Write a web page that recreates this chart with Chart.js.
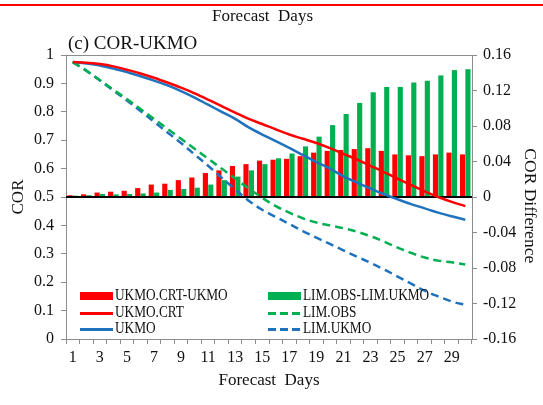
<!DOCTYPE html>
<html>
<head>
<meta charset="utf-8">
<script src="https://cdn.jsdelivr.net/npm/chart.js@4.4.1/dist/chart.umd.min.js"></script>
<style>
  body { margin: 0; background: #fff; }
  #wrap { position: relative; width: 543px; height: 405px; overflow: hidden; font-family: "Liberation Serif", "Times New Roman", serif; color: #111; }
  #chart { position: absolute; left: 0; top: 0; }
  .txt { position: absolute; white-space: nowrap; line-height: 1; }
  #topRule { position: absolute; left: 0; top: 4px; width: 543px; height: 2px; background: #ff0000; }
  #prevTitle { left: 212px; top: 7px; font-size: 17px; }
  #panelTitle { left: 68px; top: 33px; font-size: 19px; }
  .legRow { position: absolute; height: 16px; }
  .sw { position: absolute; left: 0; width: 33px; }
  .legTxt { position: absolute; left: 35px; top: -2px; font-size: 16px; transform: scaleX(0.83); transform-origin: left center; white-space: nowrap; }
</style>
</head>
<body>
<div id="wrap">
  <canvas id="chart" width="543" height="405"></canvas>
  <div id="topRule"></div>
  <div class="txt" id="prevTitle">Forecast&nbsp; Days</div>
  <div class="txt" id="panelTitle">(c) COR-UKMO</div>
  <div id="legend"></div>
</div>
<script>
const DAYS = [1, 2, 3, 4, 5, 6, 7, 8, 9, 10, 11, 12, 13, 14, 15, 16, 17, 18, 19, 20, 21, 22, 23, 24, 25, 26, 27, 28, 29, 30];

// COR difference bars (right axis)
const CRT_DIFF = [0.002, 0.003, 0.005, 0.006, 0.007, 0.010, 0.014, 0.015, 0.019, 0.022, 0.027, 0.030, 0.035, 0.037, 0.041,
                  0.042, 0.043, 0.046, 0.050, 0.052, 0.053, 0.054, 0.055, 0.052, 0.048, 0.047, 0.046, 0.048, 0.050, 0.048];
const LIM_DIFF = [0.0015, 0.002, 0.0034, 0.003, 0.0034, 0.004, 0.005, 0.008, 0.009, 0.0105, 0.014, 0.019, 0.023, 0.030, 0.037,
                  0.0436, 0.049, 0.057, 0.068, 0.081, 0.0935, 0.106, 0.118, 0.124, 0.124, 0.129, 0.131, 0.137, 0.143, 0.144];

// COR lines (left axis)
const UKMO_CRT = [0.975, 0.973, 0.968, 0.960, 0.948, 0.935, 0.920, 0.903, 0.885, 0.865, 0.843, 0.820, 0.797, 0.775, 0.757,
                  0.738, 0.720, 0.705, 0.690, 0.672, 0.652, 0.632, 0.610, 0.588, 0.565, 0.542, 0.520, 0.500, 0.483, 0.468];
const UKMO = [0.975, 0.970, 0.963, 0.952, 0.940, 0.925, 0.910, 0.893, 0.873, 0.850, 0.825, 0.800, 0.775, 0.745, 0.720,
              0.697, 0.673, 0.648, 0.623, 0.600, 0.573, 0.551, 0.530, 0.510, 0.492, 0.475, 0.460, 0.445, 0.432, 0.420];
const LIM_OBS = [0.975, 0.945, 0.912, 0.878, 0.845, 0.810, 0.775, 0.740, 0.705, 0.670, 0.635, 0.600, 0.565, 0.530, 0.497,
                 0.468, 0.445, 0.425, 0.410, 0.400, 0.390, 0.378, 0.362, 0.343, 0.322, 0.303, 0.287, 0.276, 0.270, 0.262];
const LIM_UKMO = [0.975, 0.945, 0.910, 0.875, 0.840, 0.803, 0.765, 0.727, 0.690, 0.650, 0.610, 0.568, 0.527, 0.487, 0.455,
                  0.430, 0.405, 0.380, 0.357, 0.335, 0.312, 0.290, 0.268, 0.245, 0.220, 0.195, 0.170, 0.150, 0.132, 0.120];

const RED = '#ff0000';
const GREEN = '#00b050';
const BLUE = '#1f72bd';
const AXIS = '#8c8c8c';
const FONT = '"Liberation Serif", "Times New Roman", serif';

// black zero line of the difference axis, drawn over the bars but under the lines
const zeroLine = {
    id: 'zeroLine',
    afterDatasetDraw(chart, args) {
        if (args.index !== 0) return;
        const { ctx, chartArea, scales } = chart;
        const y0 = Math.round(scales.y2.getPixelForValue(0));
        ctx.save();
        ctx.strokeStyle = '#000';
        ctx.lineWidth = 2;
        ctx.beginPath();
        ctx.moveTo(chartArea.left, y0);
        ctx.lineTo(chartArea.right, y0);
        ctx.stroke();
        ctx.restore();
    },
    afterDraw(chart) {
        const { ctx, chartArea } = chart;
        ctx.save();
        ctx.strokeStyle = AXIS;
        ctx.lineWidth = 1;
        ctx.beginPath();
        ctx.moveTo(chartArea.left, chartArea.top + 0.5);
        ctx.lineTo(chartArea.right, chartArea.top + 0.5);
        ctx.stroke();
        ctx.restore();
    }
};

const datasets = [
    { type: 'bar', label: 'UKMO.CRT-UKMO', data: CRT_DIFF, yAxisID: 'y2', backgroundColor: RED,
      barPercentage: 0.95, categoryPercentage: 0.8, order: 2 },
    { type: 'bar', label: 'LIM.OBS-LIM.UKMO', data: LIM_DIFF, yAxisID: 'y2', backgroundColor: GREEN,
      barPercentage: 0.95, categoryPercentage: 0.8, order: 2 },
    { type: 'line', label: 'UKMO.CRT', data: UKMO_CRT, yAxisID: 'y', borderColor: RED, borderWidth: 2.5,
      pointRadius: 0, tension: 0.35, order: 1 },
    { type: 'line', label: 'LIM.OBS', data: LIM_OBS, yAxisID: 'y', borderColor: GREEN, borderWidth: 2.5,
      borderDash: [8, 5], pointRadius: 0, tension: 0.35, order: 1 },
    { type: 'line', label: 'UKMO', data: UKMO, yAxisID: 'y', borderColor: BLUE, borderWidth: 2.5,
      pointRadius: 0, tension: 0.35, order: 1 },
    { type: 'line', label: 'LIM.UKMO', data: LIM_UKMO, yAxisID: 'y', borderColor: BLUE, borderWidth: 2.5,
      borderDash: [8, 5], pointRadius: 0, tension: 0.35, order: 1 }
];

const tickFont = { family: FONT, size: 16 };

const chart = new Chart(document.getElementById('chart'), {
    type: 'bar',
    data: { labels: DAYS, datasets: datasets },
    options: {
        responsive: false,
        animation: false,
        layout: { padding: { top: 55, left: 0, right: 0, bottom: 0 } },
        plugins: { legend: { display: false }, tooltip: { enabled: false } },
        scales: {
            x: {
                position: 'bottom',
                afterFit: s => { s.height = 66; },
                border: { color: AXIS },
                grid: { drawOnChartArea: false, color: AXIS, tickLength: 5, offset: true },
                ticks: {
                    autoSkip: false, maxRotation: 0, padding: 4, color: '#111', font: tickFont,
                    callback: (v, i) => (i % 2 === 0 ? String(DAYS[i]) : '')
                },
                title: { display: true, text: 'Forecast  Days', color: '#111', font: { family: FONT, size: 17 },
                         padding: { top: 0, bottom: 14 } }
            },
            y: {
                position: 'left', min: 0, max: 1,
                afterFit: s => { s.width = 66; },
                border: { color: AXIS },
                grid: { drawOnChartArea: false, color: AXIS, tickLength: 5 },
                ticks: { stepSize: 0.1, padding: 7, color: '#111', font: tickFont,
                         callback: v => String(Math.round(v * 10) / 10) },
                title: { display: true, text: 'COR', color: '#111', font: { family: FONT, size: 17 },
                         padding: { top: 8 } }
            },
            y2: {
                position: 'right', min: -0.16, max: 0.16,
                afterFit: s => { s.width = 71; },
                border: { color: AXIS },
                grid: { drawOnChartArea: false, color: AXIS, tickLength: 5 },
                ticks: { stepSize: 0.04, padding: 6, color: '#111', font: tickFont,
                         callback: v => (Math.abs(v) < 1e-9 ? '0' : (Math.round(v * 100) / 100).toFixed(2)) },
                title: { display: true, text: '    COR Difference', color: '#111', font: { family: FONT, size: 17.5 },
                         padding: { top: 3 } }
            }
        }
    },
    plugins: [zeroLine]
});

// legend inside the plot area, two columns of three rows
const LEGEND_COLS = [
    ['UKMO.CRT-UKMO', 'UKMO.CRT', 'UKMO'],
    ['LIM.OBS-LIM.UKMO', 'LIM.OBS', 'LIM.UKMO']
];
const legX = [80, 268];
const legY = [288, 305, 321];
const legend = document.getElementById('legend');
LEGEND_COLS.forEach((col, c) => {
    col.forEach((name, r) => {
        const ds = datasets.find(d => d.label === name);
        const row = document.createElement('div');
        row.className = 'legRow';
        row.style.left = legX[c] + 'px';
        row.style.top = legY[r] + 'px';
        const sw = document.createElement('div');
        sw.className = 'sw';
        if (ds.type === 'bar') {
            sw.style.top = '4px';
            sw.style.height = '8px';
            sw.style.background = ds.backgroundColor;
        } else {
            sw.style.top = '7px';
            sw.style.height = '3px';
            sw.style.background = ds.borderDash
                ? `repeating-linear-gradient(90deg, ${ds.borderColor} 0 8px, transparent 8px 12px)`
                : ds.borderColor;
        }
        const t = document.createElement('div');
        t.className = 'legTxt';
        t.textContent = name;
        row.appendChild(sw);
        row.appendChild(t);
        legend.appendChild(row);
    });
});
</script>
</body>
</html>
